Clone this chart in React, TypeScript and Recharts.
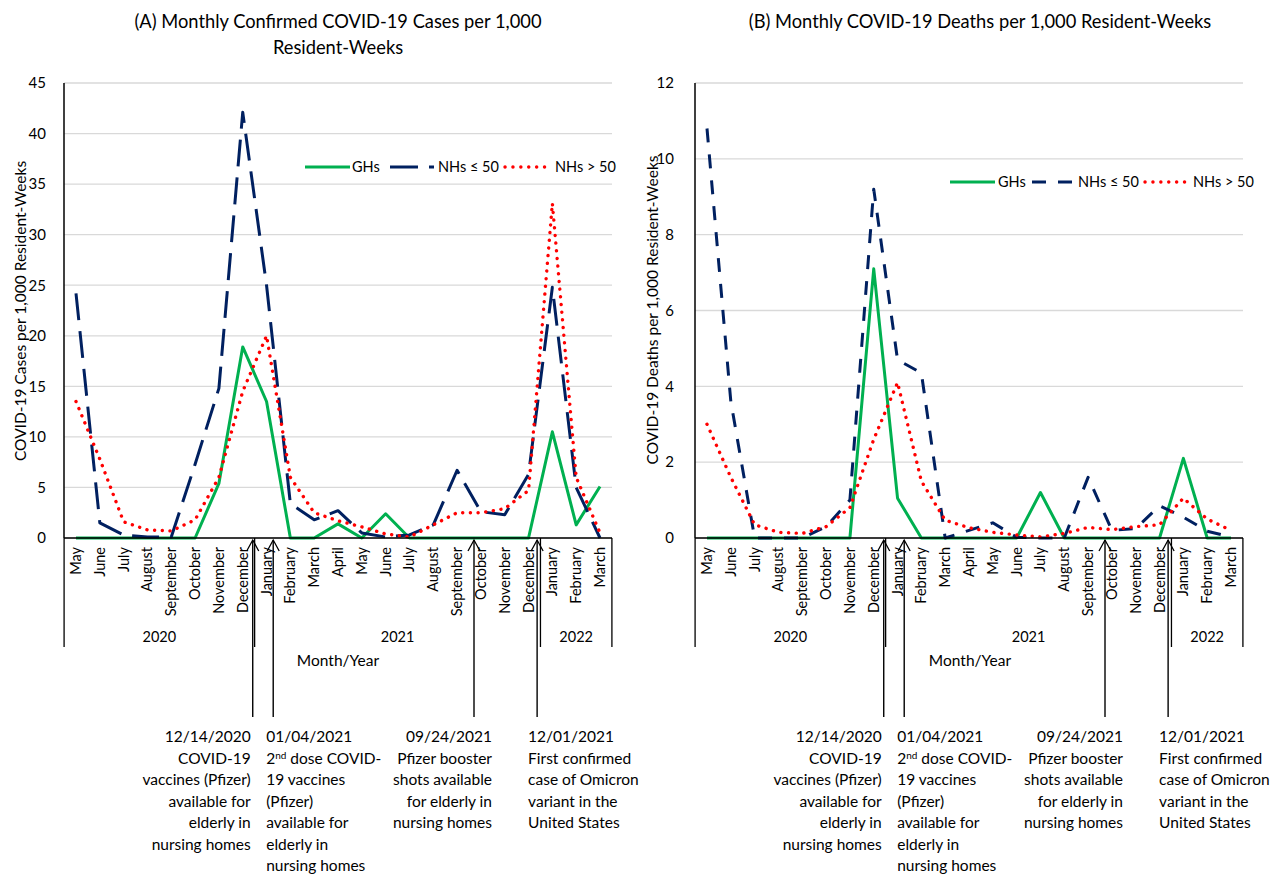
import React from 'react';
import { LineChart, Line, XAxis, YAxis, CartesianGrid } from 'recharts';

const FONT = 'Lato, "Open Sans", sans-serif';

// categories
const monthLabels = [
  'May', 'June', 'July', 'August', 'September', 'October', 'November', 'December',
  'January', 'February', 'March', 'April', 'May', 'June', 'July', 'August', 'September', 'October', 'November', 'December',
  'January', 'February', 'March',
];
const yearGroups = [
  { label: '2020', span: 8 },
  { label: '2021', span: 12 },
  { label: '2022', span: 3 },
];

// (A) cases per 1,000 resident-weeks
const casesGH = [0, 0, 0, 0, 0, 0, 5.4, 18.9, 13.5, 0, 0, 1.4, 0, 2.4, 0, 0, 0, 0, 0, 0, 10.5, 1.3, 5.1];
const casesNHSmall = [24.2, 1.5, 0.3, 0.1, 0.1, 7.3, 14.8, 42.1, 25, 3.4, 1.8, 2.7, 0.5, 0.1, 0.3, 1.3, 6.7, 2.6, 2.3, 6.3, 24.8, 5, 0];
const casesNHLarge = [13.5, 7.8, 1.6, 0.8, 0.7, 1.8, 6, 14.5, 20, 6, 2.5, 1.7, 1.1, 0.4, 0.1, 1.3, 2.5, 2.5, 2.9, 4.7, 33.1, 6, 0.5];

// (B) deaths per 1,000 resident-weeks
const deathsGH = [0, 0, 0, 0, 0, 0, 0, 7.1, 1.05, 0, 0, 0, 0, 0, 1.2, 0, 0, 0, 0, 0, 2.1, 0, 0];
const deathsNHSmall = [10.8, 3.6, 0, 0, 0, 0.3, 1.0, 9.2, 4.7, 4.35, 0, 0.2, 0.4, 0.02, 0, 0, 1.6, 0.2, 0.25, 0.85, 0.55, 0.18, 0.03];
const deathsNHLarge = [3.0, 1.6, 0.35, 0.15, 0.12, 0.3, 0.8, 2.6, 4.1, 1.5, 0.47, 0.27, 0.15, 0.08, 0.03, 0.12, 0.28, 0.22, 0.3, 0.35, 1.05, 0.5, 0.2];

const casesTicks = [0, 5, 10, 15, 20, 25, 30, 35, 40, 45];
const deathsTicks = [0, 2, 4, 6, 8, 10, 12];

const seriesNames = ['GHs', 'NHs ≤ 50', 'NHs > 50'];

// event markers: position as fractional month index
const events = [
  { at: 7.42, anchor: 'end', dx: -2, lines: ['12/14/2020', 'COVID-19', 'vaccines (Pfizer)', 'available for', 'elderly in', 'nursing homes'] },
  { at: 8.28, anchor: 'start', dx: -7, lines: ['01/04/2021', ['2', 'nd', ' dose COVID-'], '19 vaccines', '(Pfizer)', 'available for', 'elderly in', 'nursing homes'] },
  { at: 16.71, anchor: 'end', dx: 18, lines: ['09/24/2021', 'Pfizer booster', 'shots available', 'for elderly in', 'nursing homes'] },
  { at: 19.36, anchor: 'start', dx: -9, lines: ['12/01/2021', 'First confirmed', 'case of Omicron', 'variant in the', 'United States'] },
];

// layout
const CHART_W = 640;
const CHART_H = 874;
const MARGIN = { top: 83, right: 28, bottom: 221, left: 4 };
const Y_AXIS_W = 60;
const X_AXIS_H = 115;
const X_PAD = 12;
const PLOT_W = CHART_W - MARGIN.left - MARGIN.right - Y_AXIS_W;
const STEP = (PLOT_W - 2 * X_PAD) / (monthLabels.length - 1);
const AXIS_Y = CHART_H - MARGIN.bottom - X_AXIS_H;

const GREEN = '#00B050';
const NAVY = '#002060';
const RED = '#FF0000';

function MonthTick(props: any) {
  const { x, y, payload } = props;
  const i = payload.value as number;
  const parts: any[] = [
    <text key="m" transform={`translate(${x + 5},${y + 9}) rotate(-90)`} textAnchor="end"
      fontSize={14.5} fontFamily={FONT} fill="#000">{monthLabels[i]}</text>,
  ];
  let start = 0;
  yearGroups.forEach((g) => {
    const end = start + g.span - 1;
    if (i === start) {
      parts.push(<text key="y" x={x + ((g.span - 1) * STEP) / 2} y={y + 104} textAnchor="middle"
        fontSize={14.5} fontFamily={FONT} fill="#000">{g.label}</text>);
      if (start === 0) {
        parts.push(<line key="l" x1={x - STEP / 2} x2={x - STEP / 2} y1={y} y2={y + 109} stroke="#000" strokeWidth={1.3} />);
      }
    }
    if (i === end) {
      parts.push(<line key="s" x1={x + STEP / 2} x2={x + STEP / 2} y1={y} y2={y + 109} stroke="#000" strokeWidth={1.3} />);
    }
    start += g.span;
  });
  return <g>{parts}</g>;
}

function Panel({ gh, small, large, ticks, dash, tickMargin }: any) {
  const data = monthLabels.map((m, i) => ({ idx: i, month: m, gh: gh[i], small: small[i], large: large[i] }));
  return (
    <LineChart width={CHART_W} height={CHART_H} data={data} margin={MARGIN}>
      <CartesianGrid vertical={false} stroke="#d9d9d9" strokeWidth={1.3} />
      <XAxis dataKey="idx" type="category" interval={0} height={X_AXIS_H} padding={{ left: X_PAD, right: X_PAD }}
        tickLine={false} tickSize={0} tickMargin={0} axisLine={{ stroke: '#000', strokeWidth: 1.5 }} tick={<MonthTick />} />
      <YAxis type="number" domain={[0, ticks[ticks.length - 1]]} ticks={ticks} interval={0} width={Y_AXIS_W}
        tickLine={false} tickMargin={tickMargin} axisLine={{ stroke: '#000', strokeWidth: 1.5 }}
        tick={{ fontSize: 15, fontFamily: FONT, fill: '#000' }} />
      <Line dataKey="gh" name={seriesNames[0]} stroke={GREEN} strokeWidth={3} dot={false} strokeLinejoin="round" isAnimationActive={false} />
      <Line dataKey="small" name={seriesNames[1]} stroke={NAVY} strokeWidth={3} strokeDasharray={dash} dot={false} strokeLinejoin="round" isAnimationActive={false} />
      <Line dataKey="large" name={seriesNames[2]} stroke={RED} strokeWidth={3.4} strokeDasharray="0.1 7.6" strokeLinecap="round" dot={false} isAnimationActive={false} />
    </LineChart>
  );
}

function LegendRow({ y, items, dash }: any) {
  return (
    <g fontFamily={FONT} fontSize={14.5} fill="#000">
      <line x1={items[0][0]} x2={items[0][1]} y1={y} y2={y} stroke={GREEN} strokeWidth={3} />
      <text x={items[0][2]} y={y + 5}>{seriesNames[0]}</text>
      <line x1={items[1][0]} x2={items[1][1]} y1={y} y2={y} stroke={NAVY} strokeWidth={3} strokeDasharray={dash} />
      <text x={items[1][2]} y={y + 5}>{seriesNames[1]}</text>
      <line x1={items[2][0]} x2={items[2][1]} y1={y} y2={y} stroke={RED} strokeWidth={3.4} strokeDasharray="0.1 7.8" strokeLinecap="round" />
      <text x={items[2][2]} y={y + 5}>{seriesNames[2]}</text>
    </g>
  );
}

function Events({ left }: { left: number }) {
  const x0 = left + MARGIN.left + Y_AXIS_W + X_PAD;
  return (
    <g fontFamily={FONT} fontSize={15.5} fill="#000">
      {events.map((ev, k) => {
        const ax = x0 + ev.at * STEP;
        const tx = ax + ev.dx;
        return (
          <g key={k}>
            <line x1={ax} x2={ax} y1={AXIS_Y + 2} y2={717} stroke="#000" strokeWidth={1.4} />
            <polyline points={`${ax - 6},${AXIS_Y + 13} ${ax},${AXIS_Y + 2} ${ax + 6},${AXIS_Y + 13}`} fill="none" stroke="#000" strokeWidth={1.3} />
            {ev.lines.map((ln: any, j: number) => (
              <text key={j} x={tx} y={742 + j * 21.5} textAnchor={ev.anchor as any}>
                {Array.isArray(ln) ? (
                  <>
                    {ln[0]}
                    <tspan fontSize={10} dy={-5}>{ln[1]}</tspan>
                    <tspan dy={5}>{ln[2]}</tspan>
                  </>
                ) : ln}
              </text>
            ))}
          </g>
        );
      })}
    </g>
  );
}

export default function App() {
  return (
    <div style={{ position: 'absolute', left: 0, top: 0, width: 1271, height: 874, background: '#fff', overflow: 'hidden' }}>
      <div style={{ position: 'absolute', left: 0, top: 0 }}>
        <Panel gh={casesGH} small={casesNHSmall} large={casesNHLarge} ticks={casesTicks} dash="27 11" tickMargin={12} />
      </div>
      <div style={{ position: 'absolute', left: 631, top: 0 }}>
        <Panel gh={deathsGH} small={deathsNHSmall} large={deathsNHLarge} ticks={deathsTicks} dash="14 12" tickMargin={15} />
      </div>
      <svg width={1271} height={874} style={{ position: 'absolute', left: 0, top: 0, pointerEvents: 'none' }}>
        <g fontFamily={FONT} fill="#000">
          <text x={338} y={28} textAnchor="middle" fontSize={18.3}>(A) Monthly Confirmed COVID-19 Cases per 1,000</text>
          <text x={338} y={54} textAnchor="middle" fontSize={18.3}>Resident-Weeks</text>
          <text x={980} y={28} textAnchor="middle" fontSize={18.3}>(B) Monthly COVID-19 Deaths per 1,000 Resident-Weeks</text>
          <text transform="translate(20,311) rotate(-90)" textAnchor="middle" dominantBaseline="central" fontSize={15.5}>COVID-19 Cases per 1,000 Resident-Weeks</text>
          <text transform="translate(652,310) rotate(-90)" textAnchor="middle" dominantBaseline="central" fontSize={15.5}>COVID-19 Deaths per 1,000 Resident-Weeks</text>
          <text x={338} y={666} textAnchor="middle" fontSize={15.5}>Month/Year</text>
          <text x={970} y={666} textAnchor="middle" fontSize={15.5}>Month/Year</text>
        </g>
        <LegendRow y={167} dash="28 11" items={[[305, 350, 352], [390, 434, 438], [505, 545, 555]]} />
        <LegendRow y={182} dash="14 12" items={[[950, 995, 998], [1032, 1073, 1078], [1145, 1185, 1193]]} />
        <Events left={0} />
        <Events left={631} />
      </svg>
    </div>
  );
}
